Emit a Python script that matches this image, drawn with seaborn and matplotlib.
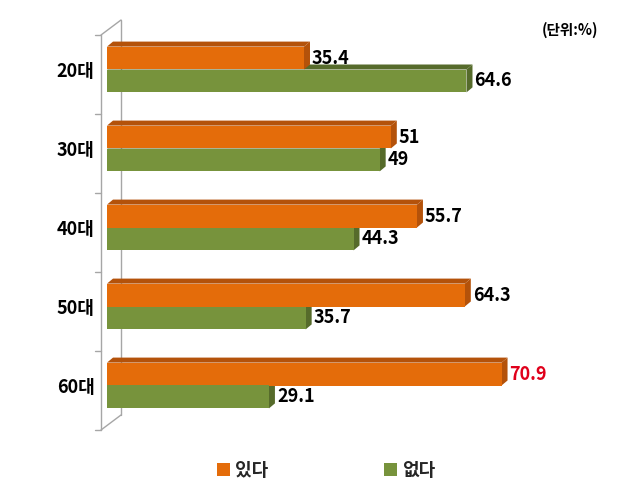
import numpy as np
import pandas as pd
import matplotlib
matplotlib.use("Agg")
import matplotlib.pyplot as plt
from matplotlib.patches import Polygon, Patch
import seaborn as sns

# ---- data ----
categories = ["20대", "30대", "40대", "50대", "60대"]
yes_values = [35.4, 51, 55.7, 64.3, 70.9]
no_values = [64.6, 49, 44.3, 35.7, 29.1]
series_names = ["있다", "없다"]
yes_labels = ["35.4", "51", "55.7", "64.3", "70.9"]
no_labels = ["64.6", "49", "44.3", "35.7", "29.1"]
unit_text = "(단위:%)"

sns.set_style("white")
plt.rcParams["font.family"] = ["Noto Sans CJK KR", "DejaVu Sans"]

front = {"있다": "#E46C0A", "없다": "#77933C"}
side = {"있다": "#B4520A", "없다": "#566B2B"}

df = pd.DataFrame({
    "age": categories * 2,
    "value": yes_values + no_values,
    "kind": [series_names[0]] * len(categories) + [series_names[1]] * len(categories),
})

W, H, DPI = 640, 499, 100
fig = plt.figure(figsize=(W / DPI, H / DPI), dpi=DPI)
ax_left, ax_right, ax_top, ax_bottom = 107, 580, 30, 425
ax = fig.add_axes([ax_left / W, 1 - ax_bottom / H, (ax_right - ax_left) / W, (ax_bottom - ax_top) / H])

sns.barplot(data=df, y="age", x="value", hue="kind", order=categories,
            hue_order=series_names, palette=front, orient="h", width=0.58,
            dodge=True, saturation=1, legend=False, ax=ax, linewidth=0, zorder=3)

ax.set_xlim(0, 85)
ax.set_ylim(4.5, -0.5)
for s in ax.spines.values():
    s.set_visible(False)
ax.set_xticks([])
ax.set_xlabel("")
ax.set_ylabel("")
ax.tick_params(axis="y", length=0, pad=9)
for t in ax.get_yticklabels():
    t.set_fontsize(13)
    t.set_fontweight("bold")
    t.set_color("black")

# 3D depth faces derived from each bar's geometry
DX, DY = 6, 5  # pixel depth
to_disp = ax.transData
to_data = ax.transData.inverted()

def shift(pts, dx, dy):
    d = to_disp.transform(pts)
    d = d + np.array([dx, dy])
    return to_data.transform(d)

n = len(categories)
for i, p in enumerate(ax.patches):
    kind = series_names[i // n]
    x0, y0 = p.get_x(), p.get_y()
    w, h = p.get_width(), p.get_height()
    tl, tr, br = (x0, y0), (x0 + w, y0), (x0 + w, y0 + h)
    tl2, tr2, br2 = shift([tl, tr, br], DX, DY)
    z = 2.5 if kind == series_names[0] else 2.0
    top = Polygon([tl, tr, tr2, tl2], closed=True, facecolor=side[kind], edgecolor="none", zorder=z)
    rgt = Polygon([tr, br, br2, tr2], closed=True, facecolor=side[kind], edgecolor="none", zorder=z)
    ax.add_patch(top)
    ax.add_patch(rgt)
    lab = (yes_labels + no_labels)[i]
    color = "#E0001B" if (kind == series_names[0] and i % n == n - 1) else "black"
    ax.annotate(lab, xy=(x0 + w, y0 + h / 2), xytext=(DX + 2, 0), textcoords="offset pixels",
                ha="left", va="center", fontsize=13, fontweight="bold", color=color,
                zorder=5, annotation_clip=False)

# walls (derived from axis extent)
wall_c = "#A6A6A6"
ys = np.arange(-0.5, n + 0.5, 1.0)
fx, fy = -DX, -DY
front_pts = shift([(0, ys[0]), (0, ys[-1])], fx, fy)
back_pts = shift([(0, ys[0]), (0, ys[-1])], fx + 20, fy + 15)
ax.plot([front_pts[0][0], front_pts[1][0]], [front_pts[0][1], front_pts[1][1]],
        color=wall_c, lw=1, clip_on=False, zorder=1)
ax.plot([back_pts[0][0], back_pts[1][0]], [back_pts[0][1], back_pts[1][1]],
        color=wall_c, lw=1, clip_on=False, zorder=1)
for k in (0, 1):
    ax.plot([front_pts[k][0], back_pts[k][0]], [front_pts[k][1], back_pts[k][1]],
            color=wall_c, lw=1, clip_on=False, zorder=1)
for yv in ys:
    a = shift([(0, yv)], fx, fy)[0]
    b = shift([(0, yv)], fx - 6, fy)[0]
    ax.plot([a[0], b[0]], [a[1], b[1]], color=wall_c, lw=1, clip_on=False, zorder=1)

# unit text
fig.text(598 / W, 1 - 30 / H, unit_text, ha="right", va="center", fontsize=10.5,
         fontweight="bold", color="black")

# legend
handles = [Patch(facecolor=front[s], edgecolor="none") for s in series_names]
fig.legend(handles, series_names, loc="center", bbox_to_anchor=(0.51, 1 - 470 / H),
           ncol=2, frameon=False, prop={"size": 13, "weight": "bold"},
           handlelength=0.7, handleheight=0.7, handletextpad=0.3, columnspacing=6.4)

fig.savefig("out.png", dpi=DPI)
